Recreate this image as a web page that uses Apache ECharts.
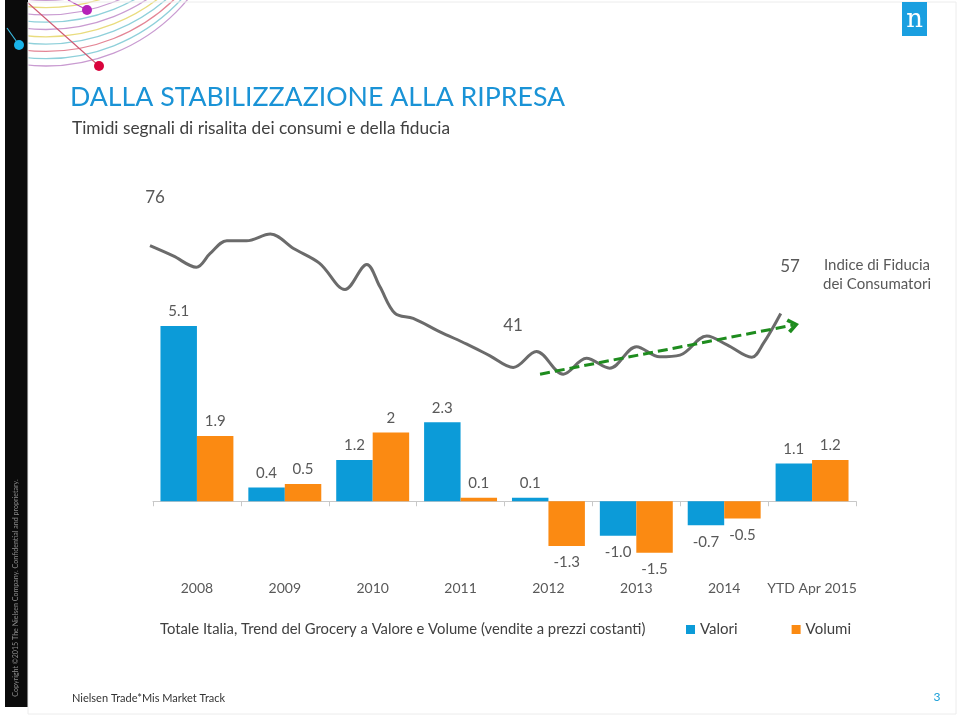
<!DOCTYPE html>
<html>
<head>
<meta charset="utf-8">
<script src="https://cdn.jsdelivr.net/npm/echarts@6/dist/echarts.min.js"></script>
<style>
html,body{margin:0;padding:0;background:#fff;}
#chart{width:959px;height:718px;}
</style>
</head>
<body>
<div id="chart"></div>
<script>
// ---- Data ----
var categories = ['2008', '2009', '2010', '2011', '2012', '2013', '2014', 'YTD Apr 2015'];
var valori = [5.1, 0.4, 1.2, 2.3, 0.1, -1.0, -0.7, 1.1];
var volumi = [1.9, 0.5, 2.0, 0.1, -1.3, -1.5, -0.5, 1.2];
var valoriLabels = ['5.1', '0.4', '1.2', '2.3', '0.1', '-1.0', '-0.7', '1.1'];
var volumiLabels = ['1.9', '0.5', '2', '0.1', '-1.3', '-1.5', '-0.5', '1.2'];

// Consumer confidence index (months since Jan 2008, index value)
var confMonths = [0, 3.2, 6.4, 8.3, 10.6, 13.3, 16.6, 19.8, 23.4, 26.9, 29.9, 31.7, 33.8, 36.3, 40, 43.7, 46.9, 50.1, 53.3, 57, 60.2, 63.4, 67.1, 70.3, 73.1, 76.8, 79.6, 83, 84.6, 87];
var confValues = [76.1, 73.2, 70.0, 73.9, 77.5, 77.5, 79.4, 75.3, 71.1, 63.7, 70.8, 64.5, 56.9, 55.5, 51.7, 48.2, 44.9, 41.6, 46.1, 39.7, 44.2, 41.4, 47.5, 44.6, 45.1, 50.5, 48.0, 44.5, 48.4, 56.9];
// trend arrow (start, end)
var trendMonths = [53.8, 88.7];
var trendValues = [39.7, 53.6];

var BLUE = '#0C9BD8';
var ORANGE = '#FB8A12';
var FONT = 'Lato, "Open Sans", sans-serif';

function barData(vals) {
  return vals.map(function (v) {
    return { value: v, label: { position: v < 0 ? 'bottom' : 'top', distance: v < 0 ? 9 : 7 } };
  });
}

var confData = confMonths.map(function (m, i) { return [m, confValues[i]]; });

// decorative arcs
var arcColors = ['#c99bd1', '#8fd0da', '#e48595', '#8fd0da', '#e9dc7e', '#c99bd1', '#8fd0da', '#c99bd1', '#e9dc7e', '#c99bd1'];
var deco = [];
arcColors.forEach(function (c, i) {
  deco.push({
    type: 'arc', silent: true,
    shape: { cx: 46, cy: -118 - 7.3 * i, r: 184, startAngle: 0, endAngle: Math.PI, clockwise: true },
    style: { stroke: c, lineWidth: 1.3, fill: null }
  });
});
deco.push({ type: 'line', silent: true, shape: { x1: 27, y1: 2, x2: 99, y2: 66 }, style: { stroke: '#cf5a74', lineWidth: 1.2 } });
deco.push({ type: 'line', silent: true, shape: { x1: 68, y1: 0, x2: 87, y2: 10 }, style: { stroke: '#b94fbf', lineWidth: 1.2 } });
deco.push({ type: 'circle', silent: true, shape: { cx: 87, cy: 10, r: 5 }, style: { fill: '#b523b8' } });
deco.push({ type: 'circle', silent: true, shape: { cx: 99, cy: 66, r: 5 }, style: { fill: '#d9043c' } });
// white margin left of strip
deco.push({ type: 'rect', silent: true, shape: { x: 0, y: 0, width: 5, height: 718 }, style: { fill: '#fff' } });
// black strip
deco.push({ type: 'rect', silent: true, shape: { x: 5, y: 0, width: 23, height: 707 }, style: { fill: '#0b0b0b' } });
deco.push({ type: 'line', silent: true, shape: { x1: 7, y1: 28, x2: 19, y2: 45 }, style: { stroke: '#3bb8de', lineWidth: 1.2 } });
deco.push({ type: 'circle', silent: true, shape: { cx: 19, cy: 45, r: 5 }, style: { fill: '#19b4ea' } });
// slide frame
deco.push({ type: 'rect', silent: true, shape: { x: 28, y: 2, width: 928, height: 712 }, style: { fill: null, stroke: '#ececec', lineWidth: 1 } });
// copyright
deco.push({ type: 'text', silent: true, x: 16, y: 588, rotation: Math.PI / 2,
  style: { text: 'Copyright \u00a92015 The Nielsen Company. Confidential and proprietary.', fill: '#8c8c8c', font: '7.1px ' + FONT, align: 'center', verticalAlign: 'middle' } });
// logo
deco.push({ type: 'rect', silent: true, shape: { x: 902, y: 2, width: 25, height: 34 }, style: { fill: '#1a9fe0' } });
deco.push({ type: 'text', silent: true, x: 914.5, y: 20,
  style: { text: 'n', fill: '#fff', font: '26px "DejaVu Serif", "Liberation Serif", serif', align: 'center', verticalAlign: 'middle' } });
// titles
deco.push({ type: 'text', silent: true, x: 70, y: 97,
  style: { text: 'DALLA STABILIZZAZIONE ALLA RIPRESA', fill: '#1a93d6', font: '26.7px ' + FONT, align: 'left', verticalAlign: 'middle' } });
deco.push({ type: 'text', silent: true, x: 72, y: 128,
  style: { text: 'Timidi segnali di risalita dei consumi e della fiducia', fill: '#404040', font: '17.3px ' + FONT, align: 'left', verticalAlign: 'middle' } });
// annotations
function ann(t, x, y, size, align) {
  deco.push({ type: 'text', silent: true, x: x, y: y,
    style: { text: t, fill: '#595959', font: size + 'px ' + FONT, align: align || 'center', verticalAlign: 'middle' } });
}
ann('76', 155, 198, 17);
ann('57', 790, 267, 17);
ann('41', 513, 326, 17);
ann('Indice di Fiducia', 877, 265, 15);
ann('dei Consumatori', 877, 284, 15);
deco.push({ type: 'text', silent: true, x: 160, y: 629,
  style: { text: 'Totale Italia, Trend del Grocery a Valore e Volume (vendite a prezzi costanti)', fill: '#404040', font: '14.8px ' + FONT, align: 'left', verticalAlign: 'middle' } });
// footer
deco.push({ type: 'text', silent: true, x: 72, y: 698,
  style: { text: 'Nielsen Trade*Mis Market Track', fill: '#333', font: '11px ' + FONT, align: 'left', verticalAlign: 'middle' } });
deco.push({ type: 'text', silent: true, x: 937, y: 697,
  style: { text: '3', fill: '#1a9fd8', font: '12px ' + FONT, align: 'center', verticalAlign: 'middle' } });

var chevron = 'path://M0,12 L10,0 L20,12 L16,15 L10,7 L4,15 Z';

var option = {
  animation: false,
  backgroundColor: '#fff',
  textStyle: { fontFamily: FONT },
  graphic: { elements: deco },
  legend: {
    data: ['Valori', 'Volumi'],
    left: 686, top: 622, padding: 0,
    icon: 'rect', itemWidth: 9, itemHeight: 9, itemGap: 54,
    textStyle: { fontSize: 15, color: '#404040', fontFamily: FONT }
  },
  grid: [
    { left: 153, width: 703, top: 295, height: 275 },
    { left: 150, width: 652.5, top: 196.6, height: 211.8 }
  ],
  xAxis: [
    {
      type: 'category', gridIndex: 0, data: categories,
      axisLine: { onZero: true, lineStyle: { color: '#c8c8c8', width: 1 } },
      axisTick: { show: true, length: 5, lineStyle: { color: '#c8c8c8' } },
      axisLabel: { margin: 11, interval: 0, fontSize: 14, color: '#595959', fontFamily: FONT }
    },
    { type: 'value', gridIndex: 1, min: 0, max: 90, show: false }
  ],
  yAxis: [
    { type: 'value', gridIndex: 0, min: -2, max: 6, show: false, splitLine: { show: false } },
    { type: 'value', gridIndex: 1, min: 30, max: 90, show: false, splitLine: { show: false } }
  ],
  series: [
    {
      name: 'Valori', type: 'bar', xAxisIndex: 0, yAxisIndex: 0,
      data: barData(valori), barGap: '0%', barCategoryGap: '17%',
      itemStyle: { color: BLUE },
      label: {
        show: true, fontSize: 15, color: '#595959', fontFamily: FONT,
        formatter: function (p) { return valoriLabels[p.dataIndex]; }
      }
    },
    {
      name: 'Volumi', type: 'bar', xAxisIndex: 0, yAxisIndex: 0,
      data: barData(volumi), barGap: '0%', barCategoryGap: '17%',
      itemStyle: { color: ORANGE },
      label: {
        show: true, fontSize: 15, color: '#595959', fontFamily: FONT,
        formatter: function (p) { return volumiLabels[p.dataIndex]; }
      }
    },
    {
      name: 'Fiducia', type: 'line', xAxisIndex: 1, yAxisIndex: 1,
      data: confData, smooth: 0.35, showSymbol: false, symbol: 'none',
      lineStyle: { color: '#6b6b6b', width: 3 },
      markLine: {
        silent: true, symbol: ['none', chevron], symbolSize: [15, 12],
        label: { show: false },
        lineStyle: { color: '#1e8c1e', width: 3, type: [10, 5] },
        data: [[{ coord: [trendMonths[0], trendValues[0]] }, { coord: [trendMonths[1], trendValues[1]] }]]
      }
    }
  ]
};

var chart = echarts.init(document.getElementById('chart'), null, { renderer: 'canvas' });
chart.setOption(option);
</script>
</body>
</html>
